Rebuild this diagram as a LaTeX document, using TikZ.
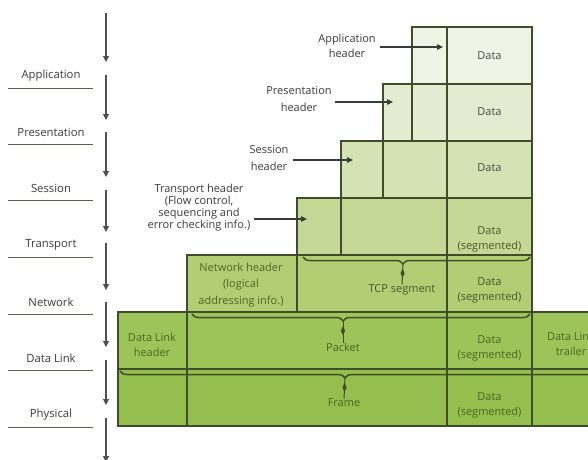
\documentclass[tikz,border=0pt]{standalone}
\usepackage{fontspec}
\setmainfont{Open Sans}
\usetikzlibrary{arrows.meta,decorations.pathreplacing,shapes.geometric,calc}

% row fills, from the top layer down
\definecolor{cA}{HTML}{EFF4E6}
\definecolor{cP}{HTML}{E3ECD1}
\definecolor{cS}{HTML}{D4E3B3}
\definecolor{cT}{HTML}{C5D996}
\definecolor{cN}{HTML}{B1CE74}
\definecolor{cDL}{HTML}{9DC459}
\definecolor{cPh}{HTML}{94BE4E}
\definecolor{gridline}{HTML}{3F4D2C}
\definecolor{labelgray}{HTML}{3A3A3A}
\definecolor{datagray}{HTML}{4A4A4A}
\definecolor{olivetext}{HTML}{48582E}
\definecolor{greentext}{HTML}{4A6820}
\definecolor{flowgray}{HTML}{505050}

\begin{document}
\begin{tikzpicture}[x=1pt,y=-1pt,
  layername/.style={font=\fontsize{11.3}{13}\selectfont, text=labelgray, inner sep=0},
  annot/.style={font=\fontsize{11}{15}\selectfont, text=labelgray, align=center, inner sep=0},
  celltext/.style={font=\fontsize{11}{15}\selectfont, align=center, inner sep=0},
  rowbox/.style={draw=gridline, line width=1.2pt},
  divider/.style={draw=gridline, line width=1.2pt},
  flowarrow/.style={draw=flowgray, line width=1.1pt, -{Triangle[length=6pt,width=6pt]}},
  pointer/.style={draw=labelgray, line width=1.1pt, -{Triangle[length=6pt,width=5.5pt]}},
  bracket/.style={draw=gridline, line width=1.5pt, decorate,
    decoration={brace, mirror, amplitude=7pt}},
  stem/.style={draw=gridline, line width=1pt},
  diamondmark/.style={shape=diamond, fill=gridline, draw=none, inner sep=0,
    minimum width=4.5pt, minimum height=10pt}]

\useasboundingbox (0,0) rectangle (588,459);
\fill[white] (0,0) rectangle (588,459);
\clip (0,0) rectangle (588,459);

% ---- layer names with underlines ----
\foreach \nm/\txt/\y in {lApp/Application/76, lPre/Presentation/132, lSes/Session/188,
    lTra/Transport/245, lNet/Network/302, lDat/Data Link/358, lPhy/Physical/415}{
  \node[layername] (\nm) at (51,\y) {\txt};
  \draw[gridline!60!gray, line width=1.3pt] (8,\y+12.5) -- (93,\y+12.5);
}

% ---- downward flow beside the layer names ----
\foreach \a/\b in {13/62, 75/120, 132/177, 190/232, 243/290, 302/347, 360/405, 418/462}{
  \draw[flowarrow] (106,\a) -- (106,\b);
}

% ---- stacked PDU rows ----
\filldraw[rowbox, fill=cA]  (412,27)  rectangle (532,84);
\filldraw[rowbox, fill=cP]  (383,84)  rectangle (532,141);
\filldraw[rowbox, fill=cS]  (341,141) rectangle (532,198);
\filldraw[rowbox, fill=cT]  (297,198) rectangle (532,255);
\filldraw[rowbox, fill=cN]  (187,255) rectangle (532,312);
\filldraw[rowbox, fill=cDL] (118,312) rectangle (620,369);
\filldraw[rowbox, fill=cPh] (118,369) rectangle (620,426);

% column dividers
\draw[divider] (447,27) -- (447,426);
\draw[divider] (412,84) -- (412,141);
\draw[divider] (383,141) -- (383,198);
\draw[divider] (341,198) -- (341,255);
\draw[divider] (297,255) -- (297,312);
\draw[divider] (187,312) -- (187,426);
\draw[divider] (532,312) -- (532,426);

% ---- cell texts ----
\node[celltext, text=datagray] (dA) at (489.5,56) {Data};
\node[celltext, text=datagray] (dP) at (489.5,112) {Data};
\node[celltext, text=datagray] (dS) at (489.5,168) {Data};
\node[celltext, text=olivetext] (dT) at (489.5,239) {Data\\(segmented)};
\node[celltext, text=olivetext] (dN) at (489.5,290) {Data\\(segmented)};
\node[celltext, text=greentext] (dDL) at (489.5,348) {Data\\(segmented)};
\node[celltext, text=greentext] (dPh) at (489.5,405) {Data\\(segmented)};

\node[celltext, text=greentext, font=\fontsize{11}{16.5}\selectfont] (netH) at (241,285)
  {Network header\\(logical\\addressing info.)};
\node[celltext, text=greentext] (dlH) at (152,345) {Data Link\\header};
\node[celltext, text=greentext] (dlT) at (571,344) {Data Link\\trailer};

\node[celltext, text=olivetext] (tcpLbl) at (402,290) {TCP segment};
\node[celltext, text=greentext] (pktLbl) at (343,347) {Packet};
\node[celltext, text=greentext] (frmLbl) at (344,403) {Frame};

% ---- header call-outs ----
\node[annot] (appHL) at (347,46) {Application\\header};
\node[annot, font=\fontsize{11}{16.5}\selectfont] (preHL) at (299,99) {Presentation\\header};
\node[annot, font=\fontsize{11}{16.5}\selectfont] (sesHL) at (269,158) {Session\\header};
\node[annot, font=\fontsize{11}{12}\selectfont] (traHL) at (199,208)
  {Transport header\\(Flow control,\\sequencing and\\error checking info.)};

\coordinate (appTip) at (443,47);
\coordinate (preTip) at (393,102);
\coordinate (sesTip) at (353,160);
\coordinate (traTip) at (307,219);
\draw[pointer] ($(appHL.east |- appTip)+(4,0)$) -- (appTip);
\draw[pointer] ($(preHL.east |- preTip)+(3,0)$) -- (preTip);
\draw[pointer] ($(sesHL.east |- sesTip)+(4,0)$) -- (sesTip);
\draw[pointer] ($(traHL.east |- traTip)+(3,0)$) -- (traTip);

% ---- encapsulation brackets ----
\draw[bracket, decoration={aspect=0.44}] (303,257) -- (530,257);
\coordinate (tcpTip) at (403,264);
\draw[stem] (tcpTip) -- node[diamondmark, pos=0.45] {} (tcpLbl.north);

\draw[bracket, decoration={aspect=0.447}] (192,314) -- (530,314);
\coordinate (pktTip) at (343,321);
\draw[stem] (pktTip) -- node[diamondmark, pos=0.45] {} (pktLbl.north);

\draw[bracket, decoration={aspect=0.45}] (120,371) -- (620,371);
\coordinate (frmTip) at (345,378);
\draw[stem] (frmTip) -- node[diamondmark, pos=0.45] {} (frmLbl.north);

\end{tikzpicture}
\end{document}
